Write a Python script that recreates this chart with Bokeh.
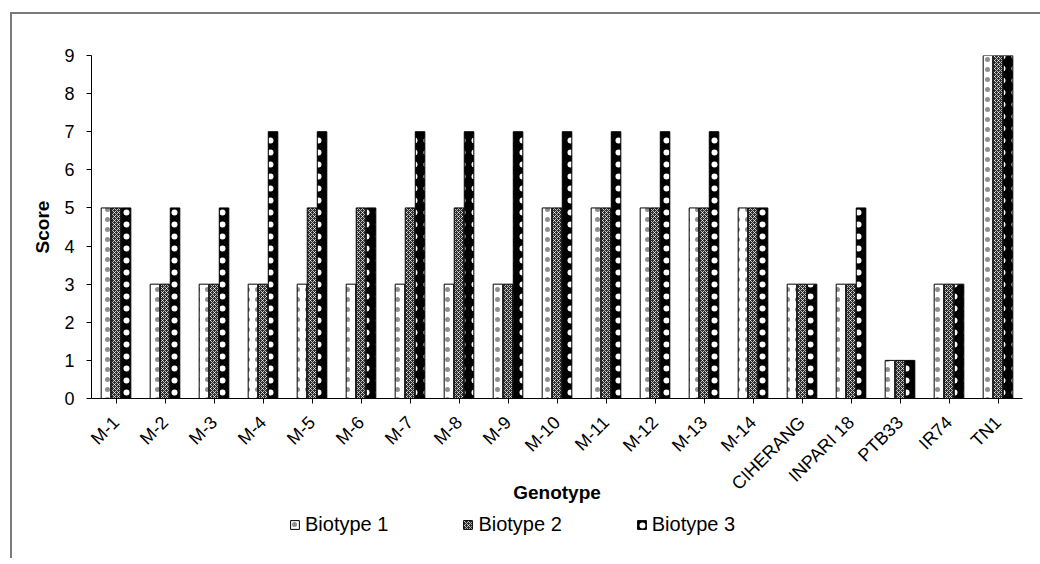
from math import pi

from bokeh.embed import file_html
from bokeh.layouts import column
from bokeh.models import (ColumnDataSource, FactorRange, Legend, LegendItem,
                          Range1d)
from bokeh.plotting import figure
from bokeh.resources import INLINE
from bokeh.transform import dodge

# Resistance scores of each genotype against three planthopper biotypes
genotypes = ["M-1", "M-2", "M-3", "M-4", "M-5", "M-6", "M-7", "M-8", "M-9",
             "M-10", "M-11", "M-12", "M-13", "M-14", "CIHERANG", "INPARI 18",
             "PTB33", "IR74", "TN1"]
biotype_1 = [5, 3, 3, 3, 3, 3, 3, 3, 3, 5, 5, 5, 5, 5, 3, 3, 1, 3, 9]
biotype_2 = [5, 3, 3, 3, 5, 5, 5, 5, 3, 5, 5, 5, 5, 5, 3, 3, 1, 3, 9]
biotype_3 = [5, 5, 5, 7, 7, 5, 7, 7, 7, 7, 7, 7, 7, 5, 3, 5, 1, 3, 9]
series_names = ["Biotype 1", "Biotype 2", "Biotype 3"]
y_ticks = list(range(0, 10))

FONT = "Liberation Sans"
FS = "18px"
FS_TITLE = "19px"
FS_LEGEND = "20px"

src = ColumnDataSource(dict(g=genotypes, b1=biotype_1, b2=biotype_2, b3=biotype_3))

# main bar chart
p = figure(
    width=1028, height=494,
    x_range=FactorRange(*genotypes, range_padding=0),
    y_range=Range1d(0, 9),
    output_backend="svg", toolbar_location=None,
    min_border_left=79, min_border_right=18,
    min_border_top=41, min_border_bottom=110,
)
p.outline_line_color = None
p.background_fill_color = "white"
p.border_fill_color = "white"
p.xgrid.grid_line_color = None
p.ygrid.grid_line_color = None

bw = 0.205
styles = [
    dict(fill_color="white", hatch_pattern="dot", hatch_color="#8f8f8f",
         hatch_scale=10, hatch_weight=0.8),
    dict(fill_color="#2e2e2e", hatch_pattern="diagonal_cross", hatch_color="white",
         hatch_scale=4, hatch_weight=0.7),
    dict(fill_color="black", hatch_pattern="dot", hatch_color="white",
         hatch_scale=12, hatch_weight=1.4),
]
for i, (col, st) in enumerate(zip(["b1", "b2", "b3"], styles)):
    p.vbar(x=dodge("g", (i - 1) * bw, range=p.x_range), top=col, width=bw - 0.01,
           source=src, line_color="black", line_width=1, **st)

# axes
p.yaxis.ticker = y_ticks
p.yaxis.axis_label = "Score"
p.xaxis.axis_label = "Genotype"
for ax in (p.xaxis[0], p.yaxis[0]):
    ax.axis_line_color = "black"
    ax.axis_line_width = 1
    ax.major_tick_line_color = "black"
    ax.major_tick_in = 0
    ax.major_tick_out = 5
    ax.minor_tick_line_color = None
    ax.major_label_text_font = FONT
    ax.major_label_text_font_size = FS
    ax.major_label_text_color = "black"
    ax.axis_label_text_font = FONT
    ax.axis_label_text_font_size = FS_TITLE
    ax.axis_label_text_font_style = "bold"
    ax.axis_label_text_color = "black"
p.xaxis.major_label_orientation = pi / 4
p.xaxis.major_label_standoff = 16
p.yaxis.major_label_standoff = 12
p.xaxis.axis_label_standoff = -22
p.yaxis.axis_label_standoff = 8

# legend strip under the chart (its frame lines up with the chart's frame)
leg = figure(
    width=1028, height=50,
    x_range=Range1d(0, 1028), y_range=Range1d(0, 50),
    output_backend="svg", toolbar_location=None,
    x_axis_type=None, y_axis_type=None,
    min_border_left=0, min_border_right=0, min_border_top=0, min_border_bottom=0,
)
leg.outline_line_color = None
leg.xgrid.grid_line_color = None
leg.ygrid.grid_line_color = None
# legend keys: one swatch per series, parked outside the visible range
keys = [leg.vbar(x=[-100], top=[0], width=1, line_color="black", line_width=1, **st)
        for st in styles]

legend = Legend(
    items=[LegendItem(label=n, renderers=[r]) for n, r in zip(series_names, keys)],
    orientation="horizontal",
    location=(198, 22),
    glyph_width=11, glyph_height=11,
    label_standoff=5, spacing=74,
    label_text_font=FONT, label_text_font_size=FS_LEGEND,
    label_text_color="black",
    border_line_color=None, background_fill_alpha=0,
    padding=0, margin=0,
)
leg.add_layout(legend, "center")

page = column(
    p, leg, spacing=0,
    styles={"margin-left": "10px", "margin-top": "12px",
            "border-left": "2px solid #7a7a7a", "border-top": "2px solid #7a7a7a"},
)

open("out.html", "w").write(file_html(page, INLINE))
